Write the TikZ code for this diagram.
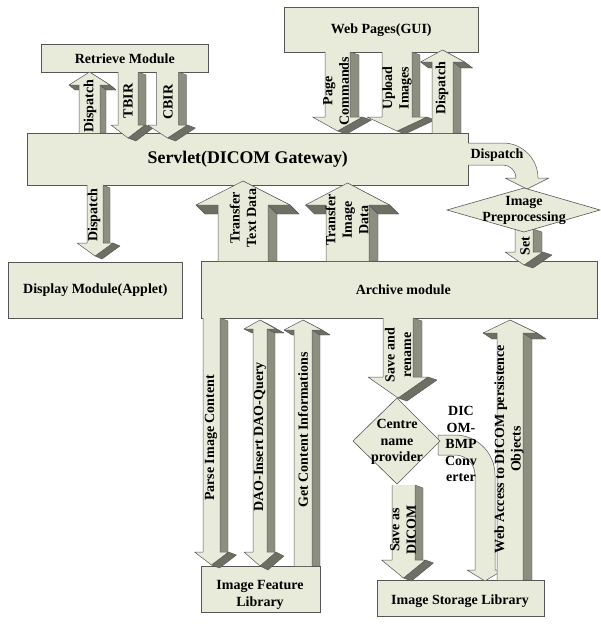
\documentclass[tikz,border=0pt]{standalone}
\usepackage{fontspec}
\setmainfont{Liberation Serif}
\definecolor{lightf}{RGB}{232,235,217}
\definecolor{sidef}{RGB}{140,143,128}
\definecolor{darkf}{RGB}{108,111,99}
\definecolor{edge}{RGB}{85,85,85}
\tikzset{
 box/.style={draw=edge, line width=0.6pt, fill=lightf, inner sep=0pt, font=\bfseries\fontsize{14}{16.5}\selectfont, align=center},
 sideface/.style={fill=sidef, draw=edge, line width=0.4pt, line join=round},
 darkface/.style={fill=darkf, draw=edge, line width=0.4pt, line join=round},
 outl/.style={draw=edge, line width=0.5pt, line join=round},
 lbl/.style={font=\bfseries\fontsize{14}{16.5}\selectfont, align=center, inner sep=0pt},
 vlbl/.style={lbl, rotate=90},
}
% cx tip base sh hh hl vx vy
\newcommand\UpArr[8]{%
 \coordinate (A) at (#1-#4,#3);
 \coordinate (B) at (#1+#4,#3);
 \coordinate (C) at (#1+#4,#2+#6);
 \coordinate (D) at (#1+#5,#2+#6);
 \coordinate (E) at (#1,#2);
 \coordinate (F) at (#1-#5,#2+#6);
 \coordinate (G) at (#1-#4,#2+#6);
 \path[sideface] (D) -- (E) -- ([shift={(#7,#8)}]E) -- ([shift={(#7,#8)}]D) -- cycle;
 \path[sideface] (C) -- ([shift={(#7,#8)}]C) -- ([shift={(#7,0)}]B) -- (B) -- cycle;
 \path[darkface] (C) -- (D) -- ([shift={(#7,#8)}]D) -- ([shift={(#7,#8)}]C) -- cycle;
 \path[darkface] (F) -- (G) -- ([shift={(#7,#8)}]G) -- ([shift={(#7,#8)}]F) -- cycle;
 \fill[lightf] (A) -- (B) -- (C) -- (D) -- (E) -- (F) -- (G) -- cycle;
 \draw[outl] (B) -- (C) -- (D) -- (E) -- (F) -- (G) -- (A);
}
% cx base tip sh hh hl vx vy
\newcommand\DownArr[8]{%
 \coordinate (A) at (#1-#4,#2);
 \coordinate (B) at (#1+#4,#2);
 \coordinate (C) at (#1+#4,#3-#6);
 \coordinate (D) at (#1+#5,#3-#6);
 \coordinate (E) at (#1,#3);
 \coordinate (F) at (#1-#5,#3-#6);
 \coordinate (G) at (#1-#4,#3-#6);
 \path[sideface] (B) -- (C) -- ([shift={(#7,#8)}]C) -- ([shift={(#7,#8)}]B) -- cycle;
 \path[darkface] (D) -- (E) -- ([shift={(#7,#8)}]E) -- ([shift={(#7,#8)}]D) -- cycle;
 \fill[lightf] (A) -- (B) -- (C) -- (D) -- (E) -- (F) -- (G) -- cycle;
 \draw[outl] (A) -- (G) -- (F) -- (E) -- (D) -- (C) -- (B);
}
% cx top bot sh hh hlT hlB vx vy
\newcommand\DblArr[9]{%
 \coordinate (T) at (#1,#2);
 \coordinate (TR) at (#1+#5,#2+#6);
 \coordinate (TRs) at (#1+#4,#2+#6);
 \coordinate (BRs) at (#1+#4,#3-#7);
 \coordinate (BR) at (#1+#5,#3-#7);
 \coordinate (Bt) at (#1,#3);
 \coordinate (BL) at (#1-#5,#3-#7);
 \coordinate (BLs) at (#1-#4,#3-#7);
 \coordinate (TLs) at (#1-#4,#2+#6);
 \coordinate (TL) at (#1-#5,#2+#6);
 \path[sideface] (TR) -- (T) -- ([shift={(#8,#9)}]T) -- ([shift={(#8,#9)}]TR) -- cycle;
 \path[sideface] (TRs) -- (BRs) -- ([shift={(#8,#9)}]BRs) -- ([shift={(#8,#9)}]TRs) -- cycle;
 \path[darkface] (TRs) -- (TR) -- ([shift={(#8,#9)}]TR) -- ([shift={(#8,#9)}]TRs) -- cycle;
 \path[darkface] (TL) -- (TLs) -- ([shift={(#8,#9)}]TLs) -- ([shift={(#8,#9)}]TL) -- cycle;
 \path[darkface] (BR) -- (Bt) -- ([shift={(#8,#9)}]Bt) -- ([shift={(#8,#9)}]BR) -- cycle;
 \path[fill=lightf, outl] (T) -- (TR) -- (TRs) -- (BRs) -- (BR) -- (Bt) -- (BL) -- (BLs) -- (TLs) -- (TL) -- cycle;
}
\begin{document}
\begin{tikzpicture}[x=1pt,y=-1pt]
\useasboundingbox (0,0) rectangle (600,624);
% boxes
\node[box, anchor=north west, minimum width=167pt, minimum height=28pt] (retrieve) at (41,44) {Retrieve Module};
\node[box, anchor=north west, minimum width=194pt, minimum height=45pt] (web) at (284,7) {Web Pages(GUI)};
\node[box, anchor=north west, minimum width=441pt, minimum height=52pt, font=\bfseries\fontsize{17.8}{20}\selectfont] (servlet) at (27,133) {Servlet(DICOM Gateway)};
\node[box, anchor=north west, minimum width=174pt, minimum height=56pt] (display) at (8,262) {Display Module(Applet)};
\node[box, anchor=north west, minimum width=396pt, minimum height=57pt] (archive) at (201,261) {\hspace*{8pt}Archive module};
\node[box, anchor=north west, minimum width=119pt, minimum height=46pt] (feature) at (201,566) {};
\node[box, anchor=north west, minimum width=167pt, minimum height=36pt] (storage) at (377,580) {};
% arrows around retrieve
\UpArr{89.5}{72}{133}{10.5}{20.5}{13}{6}{5}
\DownArr{128}{72}{138}{10}{17}{13}{8}{3}
\DownArr{167.5}{72}{138}{11}{20}{13}{8}{3}
% web pages arrows
\DownArr{337.5}{52}{131}{12.5}{25}{14}{9}{3}
\DownArr{397}{52}{131}{15}{30}{14}{8}{3}
\UpArr{442.5}{50}{133}{10.5}{22}{12}{8}{6}
% servlet to display
\DownArr{95}{185}{256}{8}{18}{13}{7}{3}
% transfer arrows
\UpArr{243}{181}{261}{25}{47}{24}{9}{9}
\UpArr{347.5}{183}{261}{21.5}{42}{22}{9}{9}
% curved dispatch
\fill[lightf] (467.5,143) -- (503,143) .. controls (522.3,143) and (538,158.7) .. (538,178) -- (549,178) -- (527,189) -- (505,178) -- (516,178) .. controls (516,170.8) and (510.2,165) .. (503,165) -- (467.5,165) -- cycle;
\draw[outl] (468,143) -- (503,143) .. controls (522.3,143) and (538,158.7) .. (538,178) -- (549,178) -- (527,189) -- (505,178) -- (516,178) .. controls (516,170.8) and (510.2,165) .. (503,165) -- (468,165);
% set arrow and preprocessing diamond
\DownArr{524}{229}{265}{9}{19}{13}{9}{3}
\path[fill=lightf, draw=edge, line width=0.6pt] (447,210) -- (524,188) -- (600,210) -- (524,232) -- cycle;
% below archive
\DownArr{211.5}{318}{565}{8.5}{17}{13}{8}{3}
\DblArr{260}{320}{566}{7}{16}{9}{14}{8}{4}
\UpArr{303}{320}{566}{9}{19}{10}{8}{5}
\DownArr{398}{318}{398}{15}{30}{21}{9}{3}
\DownArr{403.5}{485}{578}{11.5}{22}{18}{8}{3}
% DICOM-BMP converter curved arrow
\path[fill=lightf, outl] (438,435) -- (455,435) .. controls (477.1,435) and (495,452.9) .. (495,475) -- (495,570) -- (503,570) -- (485,581) -- (467,570) -- (475,570) -- (475,475) .. controls (475,464) and (466,455) .. (455,455) -- (438,455) -- cycle;
\UpArr{510}{320}{580}{13}{27}{13}{9}{6}
% centre diamond
\path[fill=lightf, draw=edge, line width=0.6pt] (353,441) -- (397,398) -- (440,441) -- (397,484) -- cycle;
% labels
\node[lbl] (featuret) at (260,595) {Image Feature\\Library};
\node[lbl] (storaget) at (460,601) {Image Storage Library};
\node[vlbl] (l1) at (90,106) {Dispatch};
\node[vlbl] (l2) at (128,101) {TBIR};
\node[vlbl] (l3) at (168,102) {CBIR};
\node[vlbl] (l4) at (336,91) {Page\\Commands};
\node[vlbl] (l5) at (397,88) {Upload\\Images};
\node[vlbl] (l6) at (442,88) {Dispatch};
\node[vlbl] (l7) at (94,215) {Dispatch};
\node[vlbl] (l8) at (243,218) {Transfer\\Text Data};
\node[vlbl] (l9) at (347,220) {Transfer\\Image\\Data};
\node[lbl] (l10) at (497,155) {Dispatch};
\node[lbl] (prep) at (524,210.5) {Image\\Preprocessing};
\node[vlbl] (l11) at (525,246) {Set};
\node[vlbl] (l12) at (211,438) {Parse Image Content};
\node[vlbl] (l13) at (260,437) {DAO-Insert DAO-Query};
\node[vlbl] (l14) at (303,430) {Get Content Informations};
\node[vlbl] (l15) at (398,355) {Save and\\rename};
\node[lbl] (centre) at (397,442) {Centre\\name\\provider};
\node[vlbl] (l16) at (403,530) {Save as\\DICOM};
\node[lbl] (l17) at (461,444) {DIC\\OM-\\BMP\\Conv\\erter};
\node[vlbl] (l18) at (509,449) {Web Access to DICOM persistence\\Objects};
\end{tikzpicture}
\end{document}
